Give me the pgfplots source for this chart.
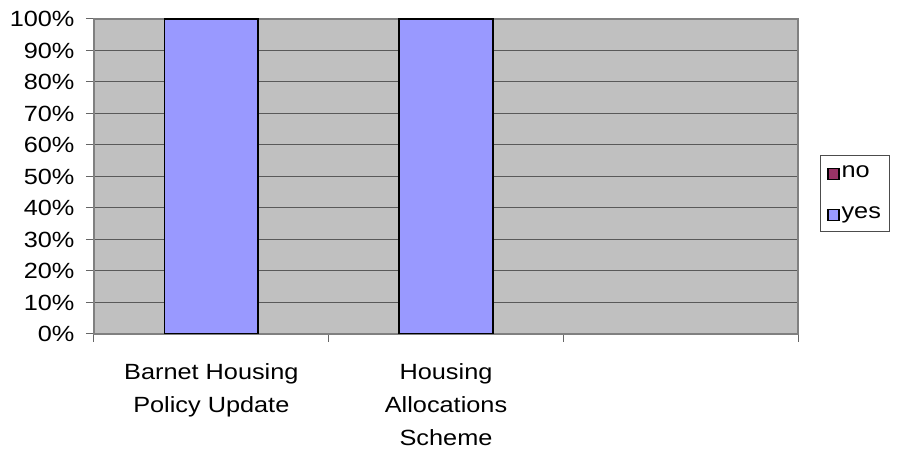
\documentclass[border=0pt]{standalone}
\usepackage{pgfplots}
\pgfplotsset{compat=1.18}
\usepackage{fontspec}
\setmainfont[FakeStretch=1.15]{Liberation Sans}
\definecolor{bg}{HTML}{C0C0C0}
\definecolor{yescol}{HTML}{9999FF}
\definecolor{nocol}{HTML}{993366}
\begin{document}
\fontsize{22bp}{33bp}\selectfont
\begin{tikzpicture}[x=1bp,y=1bp]
\useasboundingbox (-94,-121) rectangle (803,334);
\begin{axis}[
  at={(0,0)}, anchor=south west,
  scale only axis, width=704bp, height=315bp,
  xmin=-0.5, xmax=2.5, ymin=0, ymax=100,
  ytick={0,10,...,100},
  yticklabel={\pgfmathprintnumber{\tick}\%},
  /pgf/number format/assume math mode=true,
  xtick={-0.5,0.5,1.5,2.5}, xticklabels={},
  extra x ticks={0,1,2},
  extra x tick labels={{Barnet Housing\\Policy Update},{Housing\\Allocations\\Scheme},{}},
  extra x tick style={major tick length=0pt, xticklabel style={align=center, yshift=-22bp}},
  xtick pos=bottom, ytick pos=left,
  tick align=outside, major tick length=8bp,
  tick style={black!60, line width=1bp},
  axis background/.style={fill=bg},
  axis line style={black!50, line width=1.5bp},
  ymajorgrids, grid style={black!65, line width=1bp},
  yticklabel style={xshift=-4bp},
  legend style={at={(1.031,0.568)}, anchor=north west, draw=black!70, fill=white,
    line width=1bp, row sep=22bp, inner xsep=7bp, inner ysep=8bp, font=\fontsize{22bp}{25bp}\selectfont},
  legend cell align=left,
]
\addlegendimage{legend image code/.code={\draw[fill=nocol, draw=black, line width=1.2bp] (4bp,-6bp) rectangle (15bp,5bp);}}
\addlegendentry{no}
\addlegendimage{legend image code/.code={\draw[fill=yescol, draw=black, line width=1.2bp] (4bp,-6bp) rectangle (15bp,5bp);}}
\addlegendentry{yes}
\addplot[ybar stacked, bar width=0.4, fill=yescol, draw=black, line width=1.6bp, forget plot] coordinates {(0,100) (1,100)};
\addplot[ybar stacked, bar width=0.4, fill=nocol, draw=black, line width=1.6bp, forget plot] coordinates {(0,0) (1,0)};
\end{axis}
\end{tikzpicture}
\end{document}
